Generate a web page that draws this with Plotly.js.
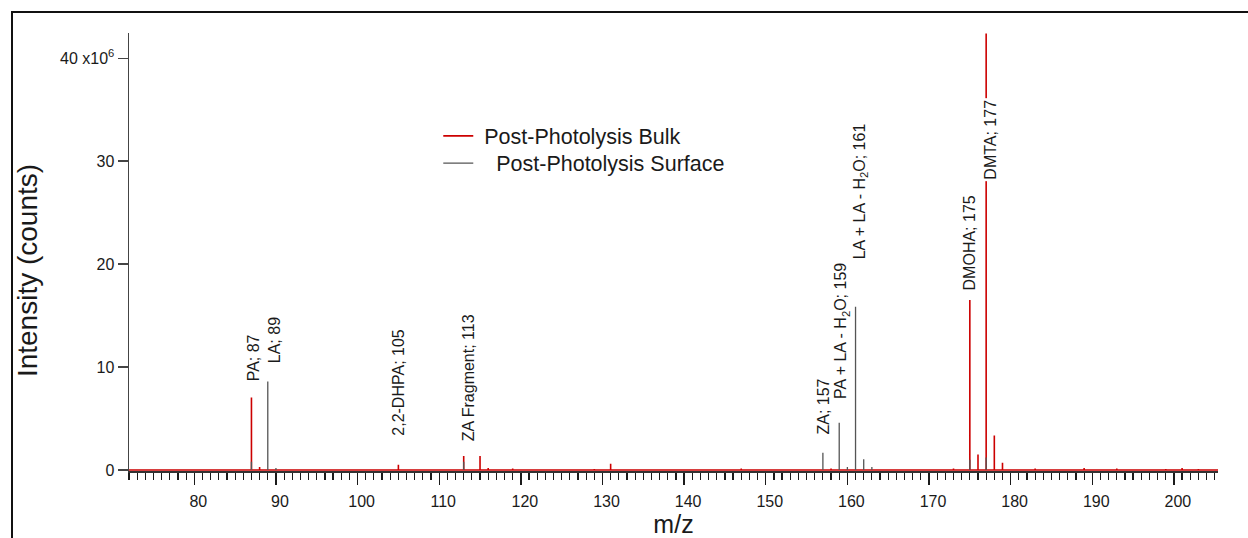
<!DOCTYPE html>
<html><head><meta charset="utf-8">
<script src="https://cdn.plot.ly/plotly-3.0.1.min.js"></script>
<style>
html,body{margin:0;padding:0;background:#fff;}
#chart{position:absolute;left:0;top:0;width:1248px;height:538px;}
#frame{position:absolute;left:11px;top:11px;width:1237px;height:527px;border-left:2px solid #111;border-top:2px solid #111;pointer-events:none;}
</style></head><body>
<div id="chart"></div><div id="frame"></div>
<script>
// Intensities in units of 10^6 counts
const bulkMz  = [87, 88, 105, 113, 115, 116, 119, 129, 131, 147, 158, 173, 175, 176, 177, 178, 179, 183, 189, 193, 199, 201, 203];
const bulkInt = [7.05, 0.3, 0.5, 1.35, 1.35, 0.2, 0.15, 0.1, 0.6, 0.15, 0.15, 0.15, 16.5, 1.5, 42.4, 3.35, 0.7, 0.15, 0.2, 0.15, 0.1, 0.2, 0.1];
const surfMz  = [87, 89, 90, 113, 157, 159, 160, 161, 162, 163, 175, 177];
const surfInt = [0.8, 8.6, 0.2, 0.8, 1.68, 4.58, 0.3, 15.85, 1.03, 0.3, 1.0, 1.2];

const yTickVals = [0, 10, 20, 30, 40];
const yTickText = ['0', '10', '20', '30', '40 x10<sup>6</sup>'];

const labelText = ['PA; 87', 'LA; 89', '2,2-DHPA; 105', 'ZA Fragment; 113', 'ZA; 157',
                   'PA + LA - H<sub>2</sub>O; 159', 'LA + LA - H<sub>2</sub>O; 161', 'DMOHA; 175', 'DMTA; 177'];
const labelMz = [87, 89, 105, 113, 157, 159, 161, 175, 177];
const labelSeries = ['bulk', 'surf', 'bulk', 'bulk', 'surf', 'surf', 'surf', 'bulk', 'bulk'];

// label placement (style)
const labelYShift = [14, 16, 27, 13, 16, 22, 45, 8, -148];
const labelXShift = [2, 7, 0, 5, 1, 3, 5, 0, 4];

const xRange = [72, 205.4];
const yRange = [-0.1, 42.45];

function sticks(mz, val, connect) {
  const x = [], y = [];
  if (connect) { x.push(xRange[0]); y.push(0); }
  for (let i = 0; i < mz.length; i++) {
    x.push(mz[i], mz[i], mz[i]);
    y.push(0, val[i], 0);
    if (!connect) { x.push(null); y.push(null); }
  }
  if (connect) { x.push(xRange[1]); y.push(0); }
  return {x, y};
}

const b = sticks(bulkMz, bulkInt, true);
const s = sticks(surfMz, surfInt, false);

const FONT = 'Liberation Sans, Arial, sans-serif';
const NB = '\u00A0';
const TXT = '#1a1a1a';

const traces = [
  {type: 'scatter', mode: 'lines', x: b.x, y: b.y, name: NB + 'Post-Photolysis Bulk', legend: 'legend',
   line: {color: '#cc0000', width: 1.6}, connectgaps: false, hoverinfo: 'skip'},
  {type: 'scatter', mode: 'lines', x: s.x, y: s.y, name: NB + NB + NB + 'Post-Photolysis Surface', legend: 'legend2',
   line: {color: '#555555', width: 1.3}, connectgaps: false, hoverinfo: 'skip'}
];

function heightOf(series, m) {
  const arrM = series === 'bulk' ? bulkMz : surfMz;
  const arrV = series === 'bulk' ? bulkInt : surfInt;
  return arrV[arrM.indexOf(m)];
}

const annotations = labelText.map((t, i) => ({
  x: labelMz[i], y: heightOf(labelSeries[i], labelMz[i]), xref: 'x', yref: 'y',
  text: t, textangle: -90, showarrow: false, xanchor: 'center', yanchor: 'bottom',
  xshift: labelXShift[i], yshift: labelYShift[i],
  font: {family: FONT, size: 16, color: TXT},
  bgcolor: labelMz[i] === 177 ? '#ffffff' : 'rgba(0,0,0,0)', borderpad: 1
}));

// y-axis title (placed as a rotated paper annotation to match the reference offset)
annotations.push({
  xref: 'paper', yref: 'paper', x: -0.0925, y: 0.457, xanchor: 'center', yanchor: 'middle',
  text: 'Intensity (counts)', textangle: -90, showarrow: false,
  font: {family: FONT, size: 28, color: TXT}
});

const legendCommon = {xanchor: 'left', yanchor: 'middle', bgcolor: 'rgba(0,0,0,0)', borderwidth: 0,
                      font: {family: FONT, size: 21.5, color: TXT}};

const layout = {
  width: 1248, height: 538,
  margin: {l: 129, r: 30, t: 33, b: 67},
  paper_bgcolor: 'rgba(0,0,0,0)', plot_bgcolor: '#ffffff',
  font: {family: FONT, color: TXT},
  showlegend: true,
  legend: Object.assign({x: 0.284, y: 0.765}, legendCommon),
  legend2: Object.assign({x: 0.284, y: 0.703}, legendCommon),
  xaxis: {
    range: xRange, showgrid: false, zeroline: false, showline: true, linecolor: '#333', linewidth: 1.5,
    layer: 'below traces',
    tick0: 0, dtick: 10, ticks: 'outside', ticklen: 12, tickwidth: 1.4, tickcolor: TXT,
    minor: {dtick: 1, ticks: 'outside', ticklen: 7, tickwidth: 1.2, tickcolor: TXT, showgrid: false},
    tickfont: {family: FONT, size: 16, color: TXT}, ticklabelstandoff: 3, ticklabelshift: 4,
    title: {text: 'm/z', font: {family: FONT, size: 25, color: TXT}, standoff: 9}
  },
  yaxis: {
    range: yRange, showgrid: false, zeroline: false, showline: true, linecolor: '#444', linewidth: 1.5,
    tickvals: yTickVals, ticktext: yTickText, ticks: 'outside', ticklen: 10, tickwidth: 1.4, tickcolor: '#444',
    tickfont: {family: FONT, size: 16, color: TXT}
  },
  annotations: annotations
};

Plotly.newPlot('chart', traces, layout, {staticPlot: true});
</script>
</body></html>
